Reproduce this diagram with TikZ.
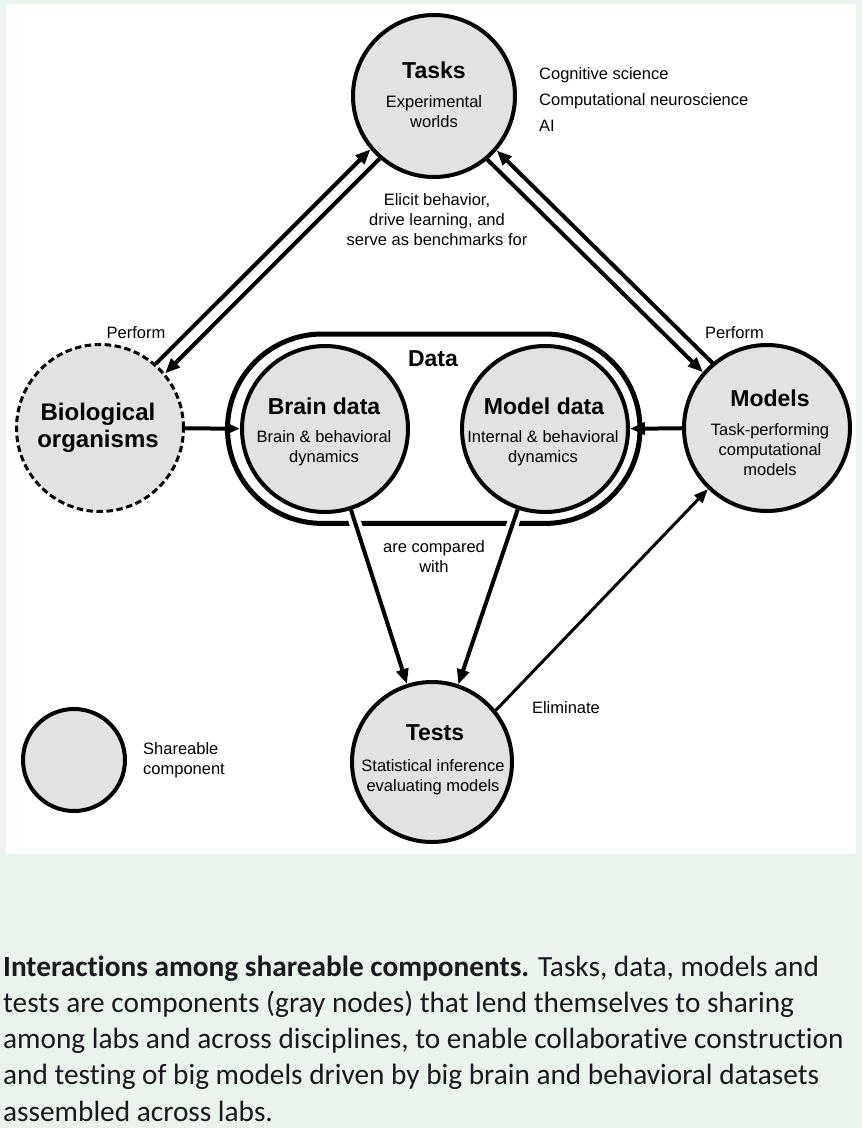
\documentclass[tikz,border=0pt]{standalone}
\usepackage{fontspec}
\setmainfont{Liberation Sans}
\newfontfamily\capfont[Ligatures=NoCommon]{Carlito}
\usetikzlibrary{arrows.meta,shapes.misc}
\definecolor{bggreen}{RGB}{234,244,236}
\definecolor{nodegray}{RGB}{225,226,228}
\definecolor{captext}{RGB}{25,25,30}
\begin{document}
\begin{tikzpicture}[x=1pt,y=-1pt,
  comp/.style={circle, draw=black, fill=nodegray, line width=4pt, inner sep=0pt},
  ttl/.style={font=\fontsize{23}{27}\selectfont\bfseries, inner sep=0pt},
  sub/.style={font=\fontsize{16.5}{20}\selectfont, align=center, inner sep=0pt},
  lbl/.style={font=\fontsize{16.5}{20}\selectfont, inner sep=0pt},
  arr/.style={line width=4pt, -{Triangle[length=15pt,width=12pt]}},
  thinarr/.style={line width=3pt, -{Triangle[length=14pt,width=11pt]}},
  halo/.style={white, line width=12pt},
  capline/.style={font=\capfont\fontsize{29.3}{36}\selectfont, text=captext, inner sep=0pt, anchor=base west},
]
\fill[bggreen] (0,0) rectangle (862,1128);
\fill[white] (6,4) rectangle (856,854);
\useasboundingbox (0,0) rectangle (862,1128);

% data container
\node[rounded rectangle, draw=black, line width=5pt, minimum width=412.5pt, minimum height=189.4pt, inner sep=0pt] (data) at (433.75,428.7) {};

% components
\node[comp, minimum size=162pt] (tasks) at (434,96) {};
\node[comp, line width=3pt, dash pattern=on 6.5pt off 3.5pt, minimum size=167pt] (bio) at (100,428) {};
\node[comp, minimum size=166pt] (brain) at (325,429) {};
\node[comp, minimum size=166pt] (modeldata) at (545,429) {};
\node[comp, minimum size=166pt] (models) at (767,428) {};
\node[comp, minimum size=160pt] (tests) at (432,762) {};
\node[comp, minimum size=102pt] (legend) at (74,760) {};

% halos where arrows cross the data container
\draw[halo, shorten <=3pt, shorten >=140pt] (brain) -- (tests);
\draw[halo, shorten <=3pt, shorten >=140pt] (modeldata) -- (tests);

% connectors
\draw[arr] (bio) -- (brain);
\draw[arr] (models) -- (modeldata);
\draw[arr] (brain) -- (tests);
\draw[arr] (modeldata) -- (tests);
\draw[thinarr] (tests.39) -- (models.226);
\draw[arr] (bio.49.5) -- (tasks.220);
\draw[arr] (tasks.229.5) -- (bio.40);
\draw[arr] (models.130.3) -- (tasks.319.9);
\draw[arr] (tasks.310.3) -- (models.139.9);

% texts
\node[ttl] (tasksT) at (434,70) {Tasks};
\node[sub] (tasksS) at (434,111.7) {Experimental\\worlds};
\node[lbl, align=left, anchor=west, font=\fontsize{16.5}{26}\selectfont] (fields) at (539,99.3) {Cognitive science\\Computational neuroscience\\AI};
\node[sub] (elicit) at (437,220) {Elicit behavior,\\drive learning, and\\serve as benchmarks for};
\node[lbl] (perf1) at (136,333) {Perform};
\node[lbl] (perf2) at (734.5,333) {Perform};
\node[ttl, align=center, font=\fontsize{24}{27}\selectfont\bfseries] (bioT) at (98,427.5) {Biological\\organisms};
\node[ttl] (dataT) at (433,359) {Data};
\node[ttl] (brainT) at (324,406) {Brain data};
\node[sub] (brainS) at (324,448) {Brain \& behavioral\\dynamics};
\node[ttl] (mdT) at (544,406) {Model data};
\node[sub] (mdS) at (543,448) {Internal \& behavioral\\dynamics};
\node[ttl] (modelsT) at (770,398) {Models};
\node[sub] (modelsS) at (770,450) {Task-performing\\computational\\models};
\node[sub] (compared) at (434,556.5) {are compared\\with};
\node[ttl] (testsT) at (435,733) {Tests};
\node[sub] (testsS) at (433,777) {Statistical inference\\evaluating models};
\node[lbl] (elim) at (566,708) {Eliminate};
\node[sub, align=left, anchor=west] (share) at (143,760) {Shareable\\component};

% caption
\node[capline] (cap1) at (3,976) {\textbf{Interactions among shareable components.} Tasks, data, models and};
\node[capline] (cap2) at (3,1012.3) {tests are components (gray nodes) that lend themselves to sharing};
\node[capline] (cap3) at (3,1048.6) {among labs and across disciplines, to enable collaborative construction};
\node[capline] (cap4) at (3,1084.9) {and testing of big models driven by big brain and behavioral datasets};
\node[capline] (cap5) at (3,1121.2) {assembled across labs.};
\end{tikzpicture}
\end{document}
